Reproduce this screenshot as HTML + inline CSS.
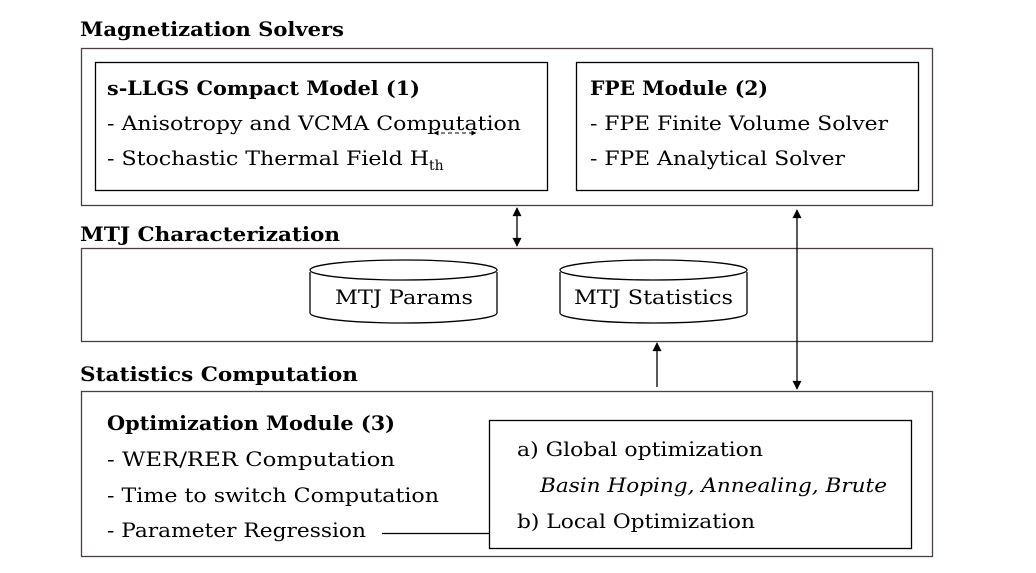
<!DOCTYPE html>
<html><head><style>body{margin:0;background:#fff}svg{display:block}</style></head><body>
<svg width="1036" height="573" xmlns="http://www.w3.org/2000/svg" font-family="DejaVu Serif, Liberation Serif, serif" font-size="20" fill="#000">
<defs>
<marker id="a" viewBox="0 0 10 10" refX="9" refY="5" markerWidth="12" markerHeight="9" orient="auto-start-reverse" markerUnits="userSpaceOnUse"><path d="M0,0 L10,5 L0,10 z"/></marker>
<marker id="s" viewBox="0 0 10 10" refX="9" refY="5" markerWidth="7" markerHeight="5" orient="auto-start-reverse" markerUnits="userSpaceOnUse"><path d="M0,0 L10,5 L0,10 z"/></marker>
</defs>
<g fill="none" stroke="#4a4040" stroke-width="1.3">
<rect x="81.5" y="48.5" width="851" height="157"/>
<rect x="81.5" y="248.5" width="851" height="93"/>
<rect x="81.5" y="391.5" width="851" height="165"/>
</g>
<g fill="none" stroke="#000" stroke-width="1.3">
<rect x="95.5" y="62.5" width="452" height="128"/>
<rect x="576.5" y="62.5" width="342" height="128"/>
<rect x="489.5" y="420.5" width="422" height="128"/>
<path d="M310,272 L310,313 A93.5,10 0 0 0 497,313 L497,272"/>
<ellipse cx="403.5" cy="270" rx="93.5" ry="10"/>
<path d="M560,272 L560,313 A93.5,10 0 0 0 747,313 L747,272"/>
<ellipse cx="653.5" cy="270" rx="93.5" ry="10"/>
<line x1="382" y1="533.5" x2="489" y2="533.5"/>
<line x1="517" y1="208" x2="517" y2="246" marker-start="url(#a)" marker-end="url(#a)"/>
<line x1="797" y1="210" x2="797" y2="389" marker-start="url(#a)" marker-end="url(#a)"/>
<line x1="657" y1="387" x2="657" y2="343" marker-end="url(#a)"/>
<line x1="434" y1="133" x2="476" y2="133" stroke-dasharray="4,3" stroke-width="1" marker-start="url(#s)" marker-end="url(#s)"/>
</g>
<g font-weight="bold">
<text x="80" y="36" textLength="264" lengthAdjust="spacingAndGlyphs">Magnetization Solvers</text>
<text x="80" y="241" textLength="260" lengthAdjust="spacingAndGlyphs">MTJ Characterization</text>
<text x="80" y="381" textLength="278" lengthAdjust="spacingAndGlyphs">Statistics Computation</text>
<text x="107" y="95" textLength="313" lengthAdjust="spacingAndGlyphs">s-LLGS Compact Model (1)</text>
<text x="590" y="95" textLength="178" lengthAdjust="spacingAndGlyphs">FPE Module (2)</text>
<text x="107" y="430" textLength="288" lengthAdjust="spacingAndGlyphs">Optimization Module (3)</text>
</g>
<text x="107" y="130" textLength="414" lengthAdjust="spacingAndGlyphs">- Anisotropy and VCMA Computation</text>
<text x="107" y="165" textLength="322" lengthAdjust="spacingAndGlyphs">- Stochastic Thermal Field H</text>
<text x="429" y="170" font-size="14">th</text>
<text x="590" y="130" textLength="298" lengthAdjust="spacingAndGlyphs">- FPE Finite Volume Solver</text>
<text x="590" y="165" textLength="255" lengthAdjust="spacingAndGlyphs">- FPE Analytical Solver</text>
<text x="335" y="304" textLength="138" lengthAdjust="spacingAndGlyphs">MTJ Params</text>
<text x="574" y="304" textLength="159" lengthAdjust="spacingAndGlyphs">MTJ Statistics</text>
<text x="107" y="466" textLength="288" lengthAdjust="spacingAndGlyphs">- WER/RER Computation</text>
<text x="107" y="502" textLength="332" lengthAdjust="spacingAndGlyphs">- Time to switch Computation</text>
<text x="107" y="537" textLength="259" lengthAdjust="spacingAndGlyphs">- Parameter Regression</text>
<text x="517" y="456" textLength="246" lengthAdjust="spacingAndGlyphs">a) Global optimization</text>
<text x="540" y="492" font-style="italic" textLength="347" lengthAdjust="spacingAndGlyphs">Basin Hoping, Annealing, Brute</text>
<text x="517" y="528" textLength="238" lengthAdjust="spacingAndGlyphs">b) Local Optimization</text>
</svg>
</body></html>
